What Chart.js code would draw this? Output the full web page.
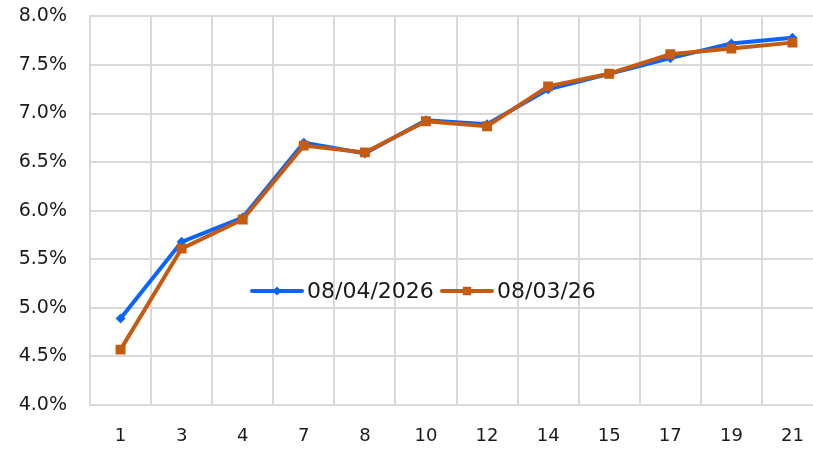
<!DOCTYPE html>
<html>
<head>
<meta charset="utf-8">
<script src="https://cdn.jsdelivr.net/npm/chart.js@4.4.1/dist/chart.umd.min.js"></script>
<style>
	html, body { margin: 0; padding: 0; background: #fff; overflow: hidden; }
	#wrap { width: 830px; height: 453px; position: relative; overflow: hidden; }
	canvas { display: block; position: absolute; left: 0; top: -18px; }
</style>
</head>
<body>
<div id="wrap"><canvas id="yield-chart" width="830" height="471"></canvas></div>
<script>
// Chart data
var categories = ["1","3","4","7","8","10","12","14","15","17","19","21"];
var series_names = ["08/04/2026","08/03/26"];
var series_new = [4.89,5.68,5.93,6.70,6.59,6.93,6.89,7.25,7.41,7.57,7.72,7.78];
var series_old = [4.57,5.61,5.91,6.67,6.60,6.92,6.87,7.28,7.41,7.61,7.67,7.73];
var y_ticks = [4.0,4.5,5.0,5.5,6.0,6.5,7.0,7.5,8.0];

var blue = "#0a64ff";
var orange = "#c55a11";
var grid_color = "#d9d9d9";
var text_color = "#1a1a1a";

// Legend drawn inside the plot, like the original
var insideLegend = {
	id: "insideLegend",
	afterDraw: function(chart) {
		var ctx = chart.ctx;
		var items = [
			{ x: 252, color: blue, style: "rectRot", radius: 4.5 },
			{ x: 442, color: orange, style: "rect", radius: 6 }
		];
		// canvas sits 18px above the page top
		var y = 291 + 18;
		ctx.save();
		ctx.font = "22px 'DejaVu Sans'";
		ctx.textBaseline = "middle";
		ctx.fillStyle = text_color;
		for (var i = 0; i < items.length; i++) {
			var item = items[i];
			ctx.strokeStyle = item.color;
			ctx.lineWidth = 4;
			ctx.lineCap = "round";
			ctx.beginPath();
			ctx.moveTo(item.x, y);
			ctx.lineTo(item.x + 50, y);
			ctx.stroke();
			ctx.fillStyle = item.color;
			Chart.helpers.drawPoint(ctx, { pointStyle: item.style, radius: item.radius, borderWidth: 0 }, item.x + 25, y);
			ctx.fillStyle = text_color;
			ctx.fillText(series_names[i], item.x + 55, y + 1);
		}
		ctx.restore();
	}
};

var ctx = document.getElementById("yield-chart");
var chart = new Chart(ctx, {
	type: "line",
	data: {
		labels: categories,
		datasets: [{
			label: series_names[0],
			data: series_new,
			borderColor: blue,
			backgroundColor: blue,
			borderWidth: 4,
			pointStyle: "rectRot",
			pointRadius: 5,
			pointBorderWidth: 0,
			tension: 0,
			order: 1
		}, {
			label: series_names[1],
			data: series_old,
			borderColor: orange,
			backgroundColor: orange,
			borderWidth: 4,
			pointStyle: "rect",
			pointRadius: 7,
			pointBorderWidth: 0,
			tension: 0,
			order: 0
		}]
	},
	options: {
		responsive: false,
		maintainAspectRatio: false,
		animation: false,
		devicePixelRatio: 1,
		layout: { padding: { top: 0, left: 0, right: 0, bottom: 0 } },
		plugins: {
			legend: { display: false },
			tooltip: { enabled: false }
		},
		scales: {
			x: {
				offset: true,
				grid: { offset: true, color: grid_color, lineWidth: 2, drawTicks: false },
				border: { color: grid_color, width: 2 },
				ticks: { color: text_color, font: { family: "DejaVu Sans", size: 18 }, padding: 21, maxRotation: 0 },
				afterFit: function(scale) { scale.height = 48; }
			},
			y: {
				min: y_ticks[0],
				max: y_ticks[y_ticks.length - 1],
				afterBuildTicks: function(scale) {
					scale.ticks = y_ticks.map(function(v) { return { value: v }; });
				},
				grid: { color: grid_color, lineWidth: 2, drawTicks: false },
				border: { color: grid_color, width: 2 },
				ticks: {
					color: text_color,
					font: { family: "DejaVu Sans", size: 19 },
					padding: 23,
					callback: function(value) { return value.toFixed(1) + "%"; }
				},
				afterFit: function(scale) { scale.width = 90; }
			}
		}
	},
	plugins: [insideLegend]
});
</script>
</body>
</html>
